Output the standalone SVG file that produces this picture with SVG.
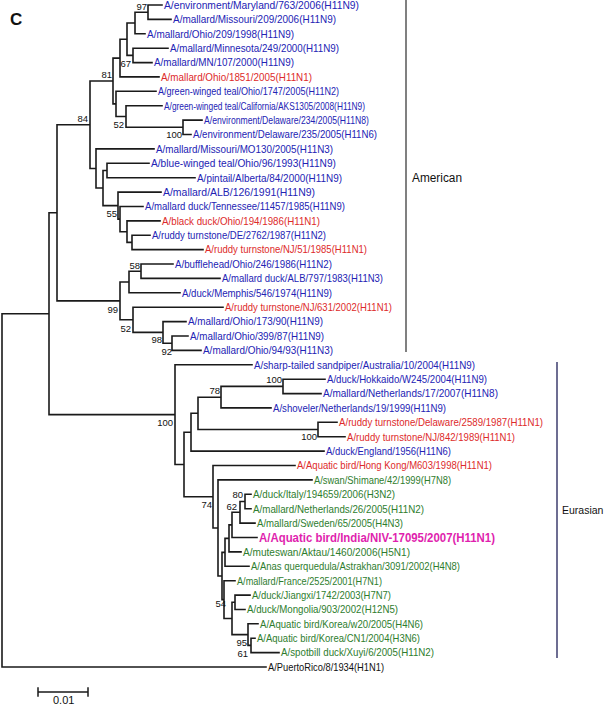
<svg xmlns="http://www.w3.org/2000/svg" width="605" height="706" viewBox="0 0 605 706">
<style>
text{font-family:"Liberation Sans",Arial,sans-serif}
.b{fill:#2323b4}
.r{fill:#dd2a2a}
.g{fill:#2e7d2e}
.k{fill:#111}
.m{fill:#e01fae;font-size:12.5px;font-weight:bold}
.bs{font-size:9.5px;fill:#111;text-anchor:end}
.tree{fill:none;stroke:#1a1a1a;stroke-width:1.6;stroke-linecap:square}
</style>
<rect width="605" height="706" fill="#fff"/>
<text x="10" y="25" style="font-size:17px;font-weight:bold" fill="#111">C</text>
<g id="connectors" class="tree">
<path d="M2 313.7V667M2 667H266M2 313.7H49
M49 212.8V414.6M49 212.8H57M49 414.6H175
M57 124.7V300.9M57 124.7H90M57 300.9H120
M90 81V168.5M90 81H113M90 168.5H96
M113 58.1V103.9M113 58.1H120M113 103.9H116
M120 39.2V76.9M120 39.2H127M120 76.9H159
M127 23V55.4M127 23H135M127 55.4H133
M135 12.2V33.8M135 12.2H148M135 33.8H145
M148 5V19.4M148 5H162M148 19.4H171
M133 48.2V62.6M133 48.2H168M133 62.6H152
M116 91.3V116.5M116 91.3H156M116 116.5H126
M126 105.7V127.3M126 105.7H162M126 127.3H183
M183 120.1V134.5M183 120.1H202M183 134.5H191
M96 148.9V188M96 148.9H154M96 188H103
M103 170.5V205.6M103 170.5H107M103 205.6H118
M107 163.3V177.7M107 163.3H149M107 177.7H195
M118 192.1V219.1M118 192.1H161M118 219.1H120
M120 206.5V231.7M120 206.5H143M120 231.7H127
M127 220.9V242.4M127 220.9H160M127 242.4H132
M132 235.2V249.6M132 235.2H150M132 249.6H203
M120 282V319.8M120 282H129M120 319.8H133
M129 271.2V292.8M129 271.2H141M129 292.8H180
M141 264V278.4M141 264H173M141 278.4H220
M133 307.2V332.4M133 307.2H223M133 332.4H163
M163 321.6V343.2M163 321.6H186M163 343.2H172
M172 336V350.4M172 336H188M172 350.4H201
M175 364.8V464.5M175 364.8H252M175 464.5H184
M184 432.2V496.7M184 432.2H191M184 496.7H213
M191 413.3V451.1M191 413.3H198M191 451.1H324
M198 397.2V429.5M198 397.2H221M198 429.5H318
M221 386.4V407.9M221 386.4H283M221 407.9H271
M283 379.2V393.6M283 379.2H325M283 393.6H321
M318 422.3V436.7M318 422.3H337M318 436.7H345
M213 465.5V528M213 465.5H295M213 528H218
M218 479.9V576M218 479.9H312M218 576H222
M222 552.4V599.6M222 552.4H225M222 599.6H224
M225 538.4V566.3M225 538.4H229M225 566.3H249
M229 524.9V551.9M229 524.9H232M229 551.9H241
M232 512.3V537.5M232 512.3H240M232 537.5H257
M240 501.5V523.1M240 501.5H245M240 523.1H255
M245 494.3V508.7M245 494.3H251M245 508.7H251
M224 580.7V618.5M224 580.7H235M224 618.5H232
M232 602.3V634.6M232 602.3H235M232 634.6H248
M235 595.1V609.5M235 595.1H250M235 609.5H245
M248 623.8V645.4M248 623.8H258M248 645.4H251
M251 638.2V652.6M251 638.2H255M251 652.6H279"/>
</g>
<g id="leaves" style="font-size:11px">
<g id="n1"><text class="b" x="164" y="8.8" textLength="195" lengthAdjust="spacingAndGlyphs">A/environment/Maryland/763/2006(H11N9)</text></g>
<g id="n2"><text class="b" x="173" y="23.2" textLength="163" lengthAdjust="spacingAndGlyphs">A/mallard/Missouri/209/2006(H11N9)</text></g>
<g id="n3"><text class="b" x="147" y="37.6" textLength="147" lengthAdjust="spacingAndGlyphs">A/mallard/Ohio/209/1998(H11N9)</text></g>
<g id="n4"><text class="b" x="170" y="52" textLength="169" lengthAdjust="spacingAndGlyphs">A/mallard/Minnesota/249/2000(H11N9)</text></g>
<g id="n5"><text class="b" x="154" y="66.4" textLength="140" lengthAdjust="spacingAndGlyphs">A/mallard/MN/107/2000(H11N9)</text></g>
<g id="n6"><text class="r" x="161" y="80.7" textLength="151" lengthAdjust="spacingAndGlyphs">A/mallard/Ohio/1851/2005(H11N1)</text></g>
<g id="n7"><text class="b" x="158" y="95.1" textLength="181" lengthAdjust="spacingAndGlyphs">A/green-winged teal/Ohio/1747/2005(H11N2)</text></g>
<g id="n8"><text class="b" x="164" y="109.5" textLength="201" lengthAdjust="spacingAndGlyphs">A/green-winged teal/California/AKS1305/2008(H11N9)</text></g>
<g id="n9"><text class="b" x="204" y="123.9" textLength="165" lengthAdjust="spacingAndGlyphs">A/environment/Delaware/234/2005(H11N8)</text></g>
<g id="n10"><text class="b" x="193" y="138.3" textLength="184" lengthAdjust="spacingAndGlyphs">A/environment/Delaware/235/2005(H11N6)</text></g>
<g id="n11"><text class="b" x="156" y="152.7" textLength="177" lengthAdjust="spacingAndGlyphs">A/mallard/Missouri/MO130/2005(H11N3)</text></g>
<g id="n12"><text class="b" x="151" y="167.1" textLength="185" lengthAdjust="spacingAndGlyphs">A/blue-winged teal/Ohio/96/1993(H11N9)</text></g>
<g id="n13"><text class="b" x="197" y="181.5" textLength="145" lengthAdjust="spacingAndGlyphs">A/pintail/Alberta/84/2000(H11N9)</text></g>
<g id="n14"><text class="b" x="163" y="195.9" textLength="152" lengthAdjust="spacingAndGlyphs">A/mallard/ALB/126/1991(H11N9)</text></g>
<g id="n15"><text class="b" x="145" y="210.3" textLength="200" lengthAdjust="spacingAndGlyphs">A/mallard duck/Tennessee/11457/1985(H11N9)</text></g>
<g id="n16"><text class="r" x="162" y="224.7" textLength="158" lengthAdjust="spacingAndGlyphs">A/black duck/Ohio/194/1986(H11N1)</text></g>
<g id="n17"><text class="b" x="152" y="239" textLength="174" lengthAdjust="spacingAndGlyphs">A/ruddy turnstone/DE/2762/1987(H11N2)</text></g>
<g id="n18"><text class="r" x="205" y="253.4" textLength="162" lengthAdjust="spacingAndGlyphs">A/ruddy turnstone/NJ/51/1985(H11N1)</text></g>
<g id="n19"><text class="b" x="175" y="267.8" textLength="157" lengthAdjust="spacingAndGlyphs">A/bufflehead/Ohio/246/1986(H11N2)</text></g>
<g id="n20"><text class="b" x="222" y="282.2" textLength="161" lengthAdjust="spacingAndGlyphs">A/mallard duck/ALB/797/1983(H11N3)</text></g>
<g id="n21"><text class="b" x="182" y="296.6" textLength="150" lengthAdjust="spacingAndGlyphs">A/duck/Memphis/546/1974(H11N9)</text></g>
<g id="n22"><text class="r" x="225" y="311" textLength="167" lengthAdjust="spacingAndGlyphs">A/ruddy turnstone/NJ/631/2002(H11N1)</text></g>
<g id="n23"><text class="b" x="188" y="325.4" textLength="135" lengthAdjust="spacingAndGlyphs">A/mallard/Ohio/173/90(H11N9)</text></g>
<g id="n24"><text class="b" x="190" y="339.8" textLength="134" lengthAdjust="spacingAndGlyphs">A/mallard/Ohio/399/87(H11N9)</text></g>
<g id="n25"><text class="b" x="203" y="354.2" textLength="130" lengthAdjust="spacingAndGlyphs">A/mallard/Ohio/94/93(H11N3)</text></g>
<g id="n26"><text class="b" x="254" y="368.6" textLength="221" lengthAdjust="spacingAndGlyphs">A/sharp-tailed sandpiper/Australia/10/2004(H11N9)</text></g>
<g id="n27"><text class="b" x="327" y="383" textLength="160" lengthAdjust="spacingAndGlyphs">A/duck/Hokkaido/W245/2004(H11N9)</text></g>
<g id="n28"><text class="b" x="323" y="397.4" textLength="175" lengthAdjust="spacingAndGlyphs">A/mallard/Netherlands/17/2007(H11N8)</text></g>
<g id="n29"><text class="b" x="273" y="411.7" textLength="173" lengthAdjust="spacingAndGlyphs">A/shoveler/Netherlands/19/1999(H11N9)</text></g>
<g id="n30"><text class="r" x="339" y="426.1" textLength="204" lengthAdjust="spacingAndGlyphs">A/ruddy turnstone/Delaware/2589/1987(H11N1)</text></g>
<g id="n31"><text class="r" x="347" y="440.5" textLength="168" lengthAdjust="spacingAndGlyphs">A/ruddy turnstone/NJ/842/1989(H11N1)</text></g>
<g id="n32"><text class="b" x="326" y="454.9" textLength="125" lengthAdjust="spacingAndGlyphs">A/duck/England/1956(H11N6)</text></g>
<g id="n33"><text class="r" x="297" y="469.3" textLength="195" lengthAdjust="spacingAndGlyphs">A/Aquatic bird/Hong Kong/M603/1998(H11N1)</text></g>
<g id="n34"><text class="g" x="314" y="483.7" textLength="137" lengthAdjust="spacingAndGlyphs">A/swan/Shimane/42/1999(H7N8)</text></g>
<g id="n35"><text class="g" x="253" y="498.1" textLength="142" lengthAdjust="spacingAndGlyphs">A/duck/Italy/194659/2006(H3N2)</text></g>
<g id="n36"><text class="g" x="253" y="512.5" textLength="171" lengthAdjust="spacingAndGlyphs">A/mallard/Netherlands/26/2005(H11N2)</text></g>
<g id="n37"><text class="g" x="257" y="526.9" textLength="146" lengthAdjust="spacingAndGlyphs">A/mallard/Sweden/65/2005(H4N3)</text></g>
<g id="n38"><text class="m" x="259" y="542" textLength="236" lengthAdjust="spacingAndGlyphs">A/Aquatic bird/India/NIV-17095/2007(H11N1)</text></g>
<g id="n39"><text class="g" x="243" y="555.7" textLength="167" lengthAdjust="spacingAndGlyphs">A/muteswan/Aktau/1460/2006(H5N1)</text></g>
<g id="n40"><text class="g" x="251" y="570.1" textLength="209" lengthAdjust="spacingAndGlyphs">A/Anas querquedula/Astrakhan/3091/2002(H4N8)</text></g>
<g id="n41"><text class="g" x="237" y="584.5" textLength="145" lengthAdjust="spacingAndGlyphs">A/mallard/France/2525/2001(H7N1)</text></g>
<g id="n42"><text class="g" x="252" y="598.9" textLength="139" lengthAdjust="spacingAndGlyphs">A/duck/Jiangxi/1742/2003(H7N7)</text></g>
<g id="n43"><text class="g" x="247" y="613.3" textLength="151" lengthAdjust="spacingAndGlyphs">A/duck/Mongolia/903/2002(H12N5)</text></g>
<g id="n44"><text class="g" x="260" y="627.6" textLength="163" lengthAdjust="spacingAndGlyphs">A/Aquatic bird/Korea/w20/2005(H4N6)</text></g>
<g id="n45"><text class="g" x="257" y="642" textLength="163" lengthAdjust="spacingAndGlyphs">A/Aquatic bird/Korea/CN1/2004(H3N6)</text></g>
<g id="n46"><text class="g" x="281" y="656.4" textLength="153" lengthAdjust="spacingAndGlyphs">A/spotbill duck/Xuyi/6/2005(H11N2)</text></g>
<g id="n47"><text class="k" x="268" y="670.8" textLength="116" lengthAdjust="spacingAndGlyphs">A/PuertoRico/8/1934(H1N1)</text></g>
</g>
<g id="bootstrap">
<text class="bs" x="147" y="10">97</text>
<text class="bs" x="131" y="67">67</text>
<text class="bs" x="112" y="78">81</text>
<text class="bs" x="88" y="122">84</text>
<text class="bs" x="124" y="128">52</text>
<text class="bs" x="182" y="138">100</text>
<text class="bs" x="117" y="217">55</text>
<text class="bs" x="140" y="269">58</text>
<text class="bs" x="118" y="313">99</text>
<text class="bs" x="131" y="332">52</text>
<text class="bs" x="162" y="343">98</text>
<text class="bs" x="172" y="355">92</text>
<text class="bs" x="173" y="426">100</text>
<text class="bs" x="220" y="394">78</text>
<text class="bs" x="282" y="383">100</text>
<text class="bs" x="317" y="440">100</text>
<text class="bs" x="212" y="508">74</text>
<text class="bs" x="243" y="498">80</text>
<text class="bs" x="237" y="510">62</text>
<text class="bs" x="226" y="607">54</text>
<text class="bs" x="247" y="646">95</text>
<text class="bs" x="248" y="657">61</text>
</g>
<g id="american">
<line x1="406" y1="0" x2="406" y2="352" stroke="#808080" stroke-width="2"/>
<text x="412" y="182" style="font-size:12px" fill="#111" textLength="50" lengthAdjust="spacingAndGlyphs">American</text>
</g>
<g id="eurasian">
<line x1="557" y1="362" x2="557" y2="658" stroke="#3d3d6e" stroke-width="1.5"/>
<text x="562" y="514" style="font-size:10.5px" fill="#111">Eurasian</text>
</g>
<g id="scale" class="tree">
<path d="M38 692H88M38 688V696M88 688V696" style="stroke-width:1.5"/>
</g>
<text x="53" y="704" style="font-size:11px" fill="#111">0.01</text>
</svg>
